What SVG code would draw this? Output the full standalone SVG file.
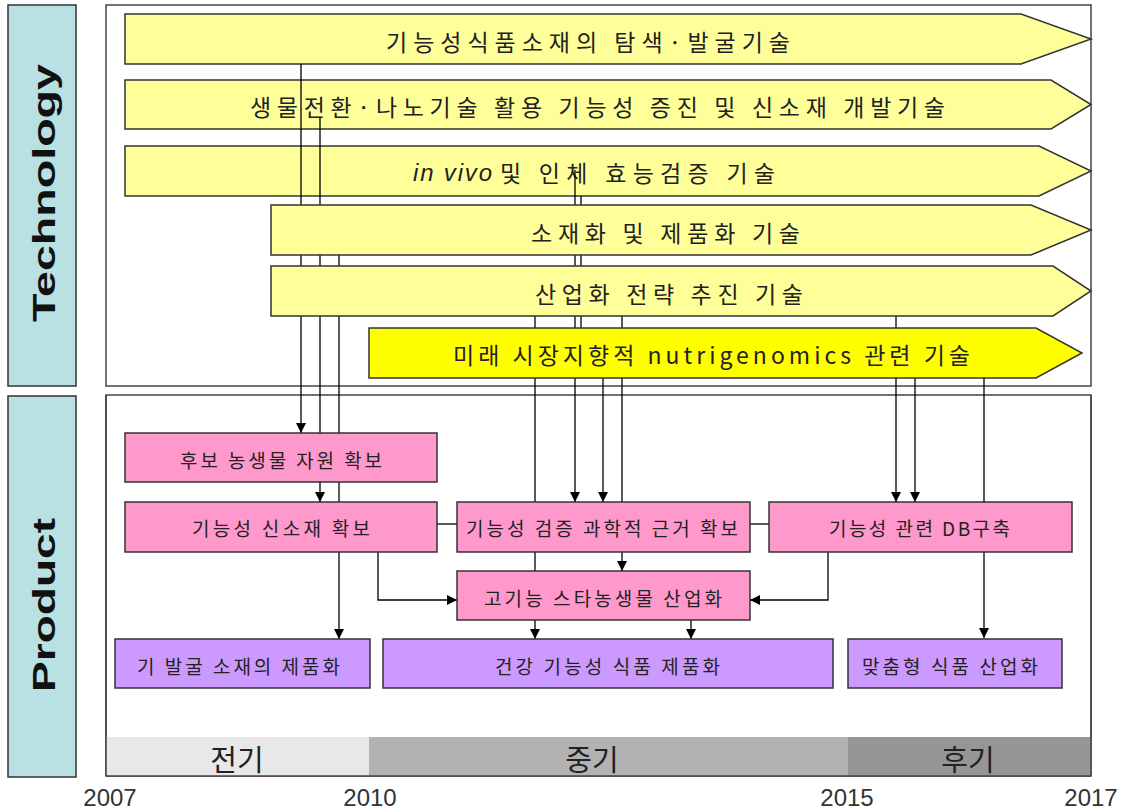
<svg xmlns="http://www.w3.org/2000/svg" width="1130" height="809" viewBox="0 0 1130 809">
<defs>
<marker id="ah" markerWidth="10" markerHeight="10" refX="10" refY="5" orient="auto" markerUnits="userSpaceOnUse">
<path d="M0,0 L10,5 L0,10 z" fill="#000"/>
</marker>
<style>
.side{fill:#B9E0E3;stroke:#333;stroke-width:1.5}
.frame{fill:#fff;stroke:#444;stroke-width:1.5}
.arr{fill:#FFFF99;stroke:#333;stroke-width:1.5}
.arr6{fill:#FFFF00;stroke:#333;stroke-width:1.5}
.pink{fill:#FF99CC;stroke:#333;stroke-width:1.5}
.purp{fill:#CC99FF;stroke:#333;stroke-width:1.5}
.lab{font-family:"Liberation Sans",Arial,sans-serif;font-weight:bold;font-size:32px;fill:#111}
.at{font-family:"Noto Sans CJK KR","Liberation Sans",sans-serif;font-size:23px;fill:#222;dominant-baseline:central}
.it{font-family:"Liberation Sans",Arial,sans-serif;font-style:italic;font-size:24px;fill:#222;dominant-baseline:central}
.bt{font-family:"Noto Sans CJK KR","Liberation Sans",sans-serif;font-size:19px;fill:#222;dominant-baseline:central}
.tl{font-family:"Noto Sans CJK KR","Liberation Sans",sans-serif;font-size:29px;fill:#222}
.yr{font-family:"Liberation Sans",Arial,sans-serif;font-size:24px;fill:#333}
.cn{fill:none;stroke:#000;stroke-width:1.3}
</style>
</defs>
<rect width="1130" height="809" fill="#fff"/>

<g id="label-technology">
<rect class="side" x="8" y="5" width="68" height="381"/>
<text class="lab" transform="translate(55,322) rotate(-90)" textLength="258" lengthAdjust="spacingAndGlyphs">Technology</text>
</g>
<g id="label-product">
<rect class="side" x="8" y="396" width="68" height="381"/>
<text class="lab" transform="translate(55,692) rotate(-90)" textLength="174" lengthAdjust="spacingAndGlyphs">Product</text>
</g>

<g id="frame-technology"><rect class="frame" x="106" y="5" width="985" height="381"/></g>
<g id="frame-product"><rect class="frame" x="106" y="395" width="985" height="381"/></g>

<g id="timeline">
<rect x="106" y="737" width="263" height="39" fill="#E8E8E8"/>
<rect x="369" y="737" width="479" height="39" fill="#B2B2B2"/>
<rect x="848" y="737" width="243" height="39" fill="#969696"/>
<line x1="106" y1="776" x2="1091" y2="776" stroke="#444" stroke-width="1.5"/>
<line x1="106" y1="395" x2="106" y2="776" stroke="#444" stroke-width="1.5"/>
<line x1="1091" y1="395" x2="1091" y2="776" stroke="#444" stroke-width="1.5"/>
<text class="tl" x="237" y="771" text-anchor="middle">전기</text>
<text class="tl" x="592" y="771" text-anchor="middle">중기</text>
<text class="tl" x="968" y="771" text-anchor="middle">후기</text>
<text class="yr" x="110" y="806" text-anchor="middle">2007</text>
<text class="yr" x="370" y="806" text-anchor="middle">2010</text>
<text class="yr" x="847" y="806" text-anchor="middle">2015</text>
<text class="yr" x="1091" y="806" text-anchor="middle">2017</text>
</g>

<g id="tech-1">
<polygon class="arr" points="125,14 1021,14 1091,39 1021,64 125,64"/>
<text class="at" x="386" y="41" textLength="404">기능성식품소재의 탐색·발굴기술</text>
</g>
<g id="tech-2">
<polygon class="arr" points="125,80 1051,80 1091,104.5 1051,129 125,129"/>
<text class="at" x="250" y="106" textLength="695">생물전환·나노기술 활용 기능성 증진 및 신소재 개발기술</text>
</g>
<g id="tech-3">
<polygon class="arr" points="125,146 1039,146 1091,171 1039,196 125,196"/>
<text class="it" x="413" y="172" textLength="79">in vivo</text>
<text class="at" x="500" y="172" textLength="275">및 인체 효능검증 기술</text>
</g>

<g id="connectors">
<line class="cn" x1="301" y1="64" x2="301" y2="433" marker-end="url(#ah)"/>
<line class="cn" x1="320" y1="117" x2="320" y2="502" marker-end="url(#ah)"/>
<line class="cn" x1="339" y1="255" x2="339" y2="639" marker-end="url(#ah)"/>
<line class="cn" x1="535" y1="316" x2="535" y2="639" marker-end="url(#ah)"/>
<line class="cn" x1="575" y1="170" x2="575" y2="502" marker-end="url(#ah)"/>
<line class="cn" x1="581" y1="196" x2="581" y2="330"/>
<line class="cn" x1="603" y1="378" x2="603" y2="502" marker-end="url(#ah)"/>
<line class="cn" x1="622" y1="316" x2="622" y2="571" marker-end="url(#ah)"/>
<line class="cn" x1="896" y1="316" x2="896" y2="502" marker-end="url(#ah)"/>
<line class="cn" x1="915" y1="378" x2="915" y2="502" marker-end="url(#ah)"/>
<line class="cn" x1="984" y1="378" x2="984" y2="638" marker-end="url(#ah)"/>
<line class="cn" x1="437" y1="524" x2="457" y2="524"/>
<line class="cn" x1="750" y1="524" x2="769" y2="524"/>
<polyline class="cn" points="378,552 378,600 457,600" marker-end="url(#ah)"/>
<polyline class="cn" points="828,552 828,600 750,600" marker-end="url(#ah)"/>
<line class="cn" x1="691" y1="620" x2="691" y2="639" marker-end="url(#ah)"/>
</g>

<g id="tech-4">
<polygon class="arr" points="271,205 1031,205 1091,230 1031,255 271,255"/>
<text class="at" x="531" y="232" textLength="269">소재화 및 제품화 기술</text>
</g>
<g id="tech-5">
<polygon class="arr" points="271,266 1053,266 1091,291 1053,316 271,316"/>
<text class="at" x="535" y="293" textLength="268">산업화 전략 추진 기술</text>
</g>
<g id="tech-6">
<polygon class="arr6" points="369,328 1036,328 1082,353 1036,378 369,378"/>
<text class="at" x="453" y="354" textLength="517">미래 시장지향적 nutrigenomics 관련 기술</text>
</g>

<g id="prod-candidate">
<rect class="pink" x="125" y="433" width="312" height="49"/>
<text class="bt" x="180" y="459" textLength="202">후보 농생물 자원 확보</text>
</g>
<g id="prod-newmaterial">
<rect class="pink" x="125" y="502" width="312" height="50"/>
<text class="bt" x="192" y="527" textLength="178">기능성 신소재 확보</text>
</g>
<g id="prod-evidence">
<rect class="pink" x="457" y="502" width="293" height="50"/>
<text class="bt" x="466" y="527" textLength="272">기능성 검증 과학적 근거 확보</text>
</g>
<g id="prod-db">
<rect class="pink" x="769" y="502" width="303" height="50"/>
<text class="bt" x="829" y="527" textLength="181">기능성 관련 DB구축</text>
</g>
<g id="prod-star">
<rect class="pink" x="457" y="571" width="293" height="49"/>
<text class="bt" x="484" y="597" textLength="238">고기능 스타농생물 산업화</text>
</g>
<g id="prod-existing">
<rect class="purp" x="115" y="639" width="255" height="49"/>
<text class="bt" x="137" y="665" textLength="203">기 발굴 소재의 제품화</text>
</g>
<g id="prod-health">
<rect class="purp" x="383" y="639" width="450" height="49"/>
<text class="bt" x="495" y="665" textLength="225">건강 기능성 식품 제품화</text>
</g>
<g id="prod-custom">
<rect class="purp" x="848" y="639" width="214" height="49"/>
<text class="bt" x="862" y="665" textLength="176">맞춤형 식품 산업화</text>
</g>
</svg>
